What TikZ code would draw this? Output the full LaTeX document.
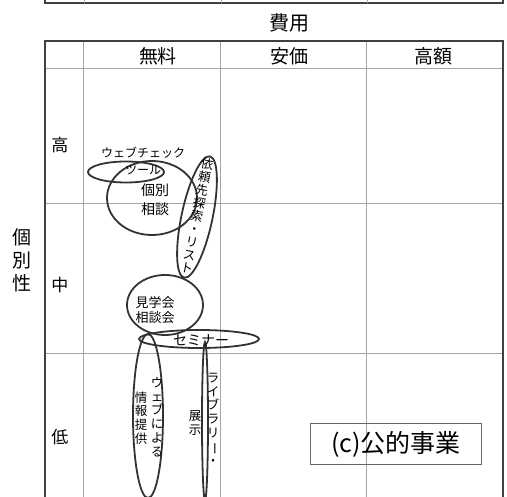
\documentclass[tikz,border=0pt]{standalone}
\usepackage{fontspec}
\setmainfont{Noto Sans CJK JP}
\usetikzlibrary{shapes.geometric, positioning}

\tikzset{
  frame/.style={line width=1.8pt, draw=black!75},
  gridline/.style={line width=0.9pt, draw=black!35},
  blob/.style={draw=black!80, line width=1.8pt, ellipse, inner sep=0pt},
  tate/.style={align=center, inner sep=0pt, font=\fontsize{12.5}{13.8}\selectfont},
}
\newcommand{\tatebar}{\rotatebox[origin=c]{-90}{ー}}

\begin{document}
\begin{tikzpicture}[x=1pt, y=-1pt]
    \useasboundingbox (0,0) rectangle (507,497);
    \clip (0,0) rectangle (507,497);

    % tail of the table above
    \draw[frame] (45,-10) -- (45,3) -- (503,3) -- (503,-10);
    \foreach \x in {84, 221, 367} {
        \draw[gridline] (\x,-10) -- (\x,3);
    };

    % grid
    \foreach \y in {68, 203, 353} {
        \draw[gridline] (45,\y) -- (503,\y);
    };
    \foreach \x in {83, 220, 366} {
        \draw[gridline] (\x,41) -- (\x,510);
    };
    \draw[frame] (45,510) -- (45,41) -- (503,41) -- (503,510);

    % axis titles
    \node[font=\fontsize{20}{22}\selectfont] (cost) at (289,23) {費用};
    \node[font=\fontsize{19}{23}\selectfont, align=center, inner sep=0pt] (indiv) at (22,260) {個\\別\\性};

    \node[font=\fontsize{19}{20}\selectfont] (free)  at (158,56) {無料};
    \node[font=\fontsize{19}{20}\selectfont] (cheap) at (289,56) {安価};
    \node[font=\fontsize{19}{20}\selectfont] (dear)  at (433,56) {高額};

    \node[font=\fontsize{17}{18}\selectfont] (high) at (60,145) {高};
    \node[font=\fontsize{17}{18}\selectfont] (mid)  at (60,285) {中};
    \node[font=\fontsize{17}{18}\selectfont] (low)  at (60,437) {低};

    % ellipses
    \node[blob, minimum width=76, minimum height=21] (webcheck) at (126,172) {};
    \node[blob, minimum width=90, minimum height=74] (kobetsu) at (152,198) {};
    \node[blob, minimum width=31, minimum height=124, rotate=-12] (irai) at (197,217) {};
    \node[blob, minimum width=76, minimum height=60] (kengaku) at (165,305) {};
    \node[blob, minimum width=120, minimum height=18] (seminar) at (199,339) {};
    \node[blob, minimum width=30, minimum height=164] (webinfo) at (148,416) {};
    \node[blob, minimum width=6, minimum height=158] (library) at (205,421) {};

    % texts
    \node[font=\fontsize{12}{13}\selectfont, inner sep=0pt] (webcheck-t1) at (143,153) {ウェブチェック};
    \node[font=\fontsize{12}{13}\selectfont, inner sep=0pt] (webcheck-t2) at (143,170) {ツール};
    \node[font=\fontsize{14}{19}\selectfont, align=center, inner sep=0pt] (kobetsu-t) at (155,200) {個別\\相談};
    \node[tate, font=\fontsize{12.5}{13.3}\selectfont, rotate=-11] (irai-t) at (197,216)
      {依\\頼\\先\\探\\索\\・\\リ\\ス\\ト};
    \node[font=\fontsize{13}{15}\selectfont, align=center, inner sep=0pt] (kengaku-t) at (155,310) {見学会\\相談会};
    \node[font=\fontsize{14}{15}\selectfont, inner sep=0pt] (seminar-t) at (201,340) {セミナー};
    \node[tate] (webinfo-t1) at (157,417) {ウ\\ェ\\ブ\\に\\よ\\る};
    \node[tate] (webinfo-t2) at (141,418) {情\\報\\提\\供};
    \node[tate] (library-t1) at (213,419) {ラ\\イ\\ブ\\ラ\\リ\\\tatebar\\・};
    \node[tate] (library-t2) at (195,423) {展\\示};

    % caption box
    \node[draw=black!60, line width=0.9pt, minimum width=171, minimum height=41,
          font=\fontsize{25}{26}\selectfont] (caption) at (396,444) {(c)公的事業};
\end{tikzpicture}
\end{document}
